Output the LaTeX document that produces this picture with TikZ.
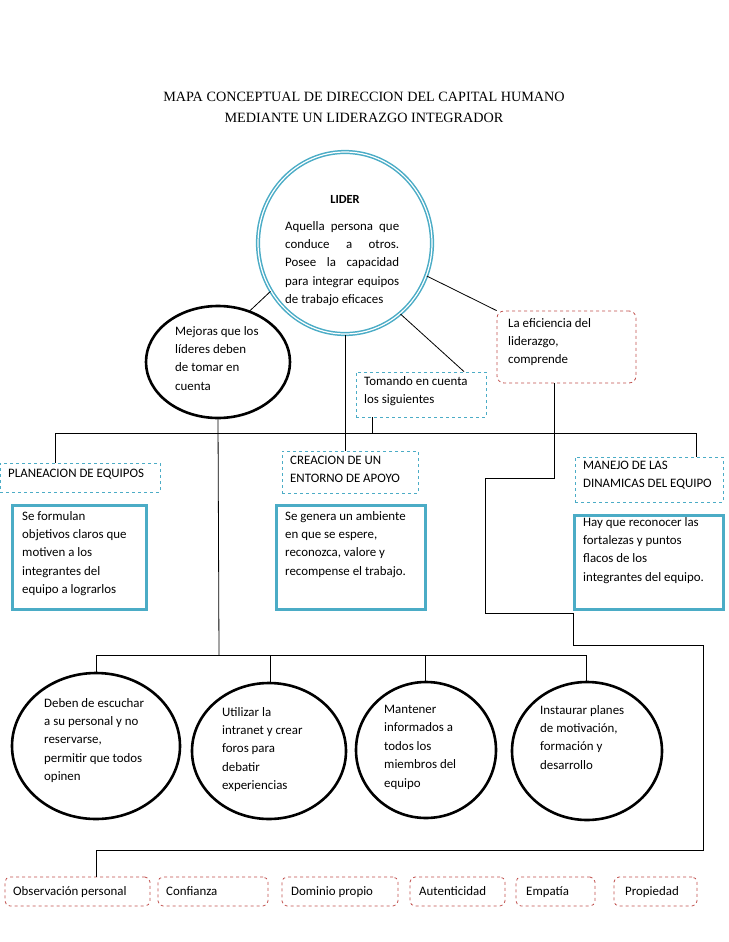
\documentclass[tikz,border=0pt]{standalone}
\usepackage{fontspec}
\setmainfont{Carlito}
\newfontfamily\titlefont{Liberation Serif}
\usetikzlibrary{shapes.geometric}
\definecolor{teal1}{RGB}{75,172,198}
\definecolor{red1}{RGB}{192,80,77}
\begin{document}
\begin{tikzpicture}[x=1pt,y=-1pt,
  txt/.style={anchor=north west,align=left,inner sep=0pt,font=\fontsize{12.9}{18.4}\selectfont},
  circ/.style={ellipse,draw=black,line width=2.6pt,inner sep=0pt},
  tbox/.style={draw=teal1,dashed,line width=0.8pt,inner sep=0pt},
  rbox/.style={draw=red1,dashed,line width=0.8pt,rounded corners=7pt,inner sep=0pt},
  bbox/.style={draw=teal1,line width=3pt,inner sep=0pt},
  ln/.style={draw=black,line width=0.8pt}]
\useasboundingbox (0,0) rectangle (728,942);
% title
\node[font=\titlefont\fontsize{14.2}{21}\selectfont,align=center] (title) at (364,107) {MAPA CONCEPTUAL DE DIRECCION DEL CAPITAL HUMANO\\MEDIANTE UN LIDERAZGO INTEGRADOR};
% LIDER
\node[ellipse,draw=teal1,line width=1.5pt,double=white,double distance=1.2pt,minimum width=174pt,minimum height=182pt,inner sep=0pt] (lider) at (345,243) {};
\node[font=\fontsize{12.4}{14}\selectfont\bfseries,inner sep=0pt] (lidert) at (345,199) {LIDER};
\node[txt,text width=114pt,align=justify] (lidertx) at (285,221) {\hyphenpenalty=10000\relax Aquella persona que conduce a otros. Posee la capacidad para integrar equipos de trabajo eficaces};
% Mejoras
\node[circ,minimum width=144pt,minimum height=112pt] (mej) at (218,362) {};
\node[txt] (mejt) at (175,326) {Mejoras que los\\líderes deben\\de tomar en\\cuenta};
% Tomando
\node[tbox,minimum width=130pt,minimum height=45pt] (tom) at (421,394.5) {};
\node[txt] (tomt) at (364,376) {Tomando en cuenta\\los siguientes};
% Eficiencia
\node[rbox,minimum width=139pt,minimum height=72pt] (efi) at (566.5,347) {};
\node[txt] (efit) at (508,318) {La eficiencia del\\liderazgo,\\comprende};
% second row dashed
\node[tbox,minimum width=160pt,minimum height=29pt] (plan) at (80,477.5) {};
\node[txt] (plant) at (8,469) {PLANEACION DE EQUIPOS};
\node[tbox,minimum width=136pt,minimum height=42pt] (crea) at (350,472) {};
\node[txt] (creat) at (290,456) {CREACION DE UN\\ENTORNO DE APOYO};
\node[tbox,minimum width=148pt,minimum height=45pt] (man) at (649,479.5) {};
\node[txt] (mant) at (583,461) {MANEJO DE LAS\\DINAMICAS DEL EQUIPO};
% blue boxes
\node[bbox,minimum width=134pt,minimum height=104pt] (sef) at (79,557) {};
\node[txt] (seft) at (22,511) {Se formulan\\objetivos claros que\\motiven a los\\integrantes del\\equipo a lograrlos};
\node[bbox,minimum width=149pt,minimum height=104pt] (seg) at (350.5,557) {};
\node[txt] (segt) at (285,511) {Se genera un ambiente\\en que se espere,\\reconozca, valore y\\recompense el trabajo.};
\node[bbox,minimum width=149pt,minimum height=94pt] (hay) at (648.5,562) {};
\node[txt] (hayt) at (583,517) {Hay que reconocer las\\fortalezas y puntos\\flacos de los\\integrantes del equipo.};
% bottom circles
\node[circ,minimum width=168pt,minimum height=146pt] (c1) at (96,746) {};
\node[txt] (c1t) at (44,698) {Deben de escuchar\\a su personal y no\\reservarse,\\permitir que todos\\opinen};
\node[circ,minimum width=154pt,minimum height=136pt] (c2) at (269,751) {};
\node[txt] (c2t) at (222,707) {Utilizar la\\intranet y crear\\foros para\\debatir\\experiencias};
\node[circ,minimum width=140pt,minimum height=136pt] (c3) at (426,750) {};
\node[txt] (c3t) at (384,705) {Mantener\\informados a\\todos los\\miembros del\\equipo};
\node[circ,minimum width=150pt,minimum height=138pt] (c4) at (587,751) {};
\node[txt] (c4t) at (540,705) {Instaurar planes\\de motivación,\\formación y\\desarrollo};
% bottom red boxes
\node[rbox,rounded corners=5pt,minimum width=145pt,minimum height=29pt] (b1) at (77.5,891.5) {};
\node[txt,anchor=base west] (b1t) at (13,895) {Observación personal};
\node[rbox,rounded corners=5pt,minimum width=110pt,minimum height=29pt] (b2) at (213,891.5) {};
\node[txt,anchor=base west] (b2t) at (166,895) {Confianza};
\node[rbox,rounded corners=5pt,minimum width=116pt,minimum height=29pt] (b3) at (340,891.5) {};
\node[txt,anchor=base west] (b3t) at (291,895) {Dominio propio};
\node[rbox,rounded corners=5pt,minimum width=95pt,minimum height=29pt] (b4) at (457.5,891.5) {};
\node[txt,anchor=base west] (b4t) at (419,895) {Autenticidad};
\node[rbox,rounded corners=5pt,minimum width=79pt,minimum height=29pt] (b5) at (555.5,891.5) {};
\node[txt,anchor=base west] (b5t) at (526,895) {Empatía};
\node[rbox,rounded corners=5pt,minimum width=83pt,minimum height=29pt] (b6) at (655.5,891.5) {};
\node[txt,anchor=base west] (b6t) at (625,895) {Propiedad};
% connectors
\draw[ln] (lider.213) -- (mej.58);
\draw[ln] (lider.-22) -- (efi.north west);
\draw[ln] (lider.-52) -- ([xshift=43pt]tom.north);
\draw[ln] (lider.south) -- (crea.north -| lider.south);
\draw[ln] (tom.south -| 372,0) -- (372,433);
\draw[ln] (plan.north -| 55,0) -- (55,433) -- (696,433) -- (man.north -| 696,0);
\draw[ln] (mej.south) -- (219,655);
\draw[ln] (c1.north) -- (96,655) -- (586,655) -- (c4.north -| 586,0);
\draw[ln] (270,655) -- (c2.north -| 270,0);
\draw[ln] (425,655) -- (c3.north -| 425,0);
\draw[ln] (efi.south -| 554,0) -- (554,478) -- (485,478) -- (485,613) -- (573,613) -- (573,645) -- (703,645) -- (703,850) -- (96,850) -- (b1.north -| 96,0);
\end{tikzpicture}
\end{document}
